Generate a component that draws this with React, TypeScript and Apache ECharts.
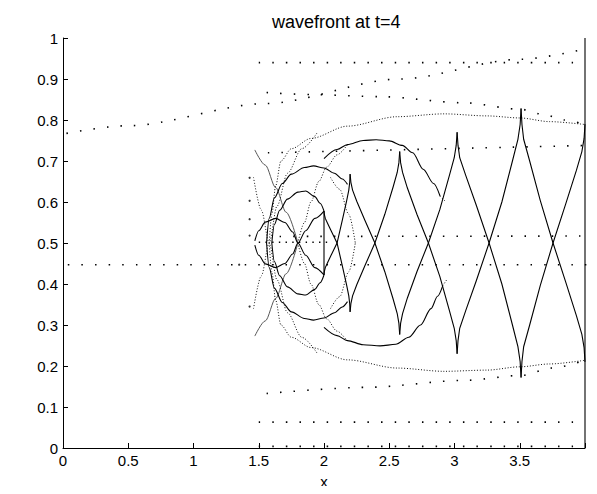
import React, { useEffect, useRef } from "react";
import * as echarts from "echarts";

type Pts = [number, number][];

const FONT = "'Liberation Sans', Arial, Helvetica, sans-serif";
const titleText = "wavefront at t=4";
const xName = "x";
const xTickValues = [0, 0.5, 1, 1.5, 2, 2.5, 3, 3.5, 4];
const yTickValues = [0, 0.1, 0.2, 0.3, 0.4, 0.5, 0.6, 0.7, 0.8, 0.9, 1];

// ---- sparse (marker) rays ----
const rayTopOblique: Pts = [[-0.483, 0.733], [0.5, 0.786], [1.55, 0.84], [2.58, 0.9], [3.5, 0.948], [4.07, 0.978]];
const rayTopBent: Pts = [[1.56, 0.867], [1.9, 0.862], [2.43, 0.857], [3.07, 0.842], [3.51, 0.826], [3.69, 0.813], [3.84, 0.8], [4.0, 0.789]];
const rayBottomBent: Pts = [[1.56, 0.133], [2.33, 0.148], [3.08, 0.165], [3.51, 0.177], [3.75, 0.195], [4.0, 0.214]];
const rayH094: Pts = [[1.5, 0.94], [3.97, 0.94]];
const rayH072: Pts = [[1.57, 0.72], [4.03, 0.738]];
const rayH052: Pts = [[1.66, 0.516], [4.03, 0.517]];
const rayH045: Pts = [[-0.483, 0.447], [4.03, 0.447]];
const rayH006: Pts = [[1.5, 0.063], [3.97, 0.063]];
const rayH000: Pts = [[1.5, 0.004], [3.97, 0.004]];
const rayAxisFine: Pts = [[1.5, 0.502], [2.05, 0.502]];
const startDots: Pts = [[1.43, 0.659], [1.43, 0.603], [1.43, 0.558], [1.43, 0.518], [1.43, 0.345], [1.35, 0.447]];

// ---- dense dotted rays ----
const dottedArcTop: Pts = [[1.58, 0.5], [1.6, 0.57], [1.63, 0.64], [1.67, 0.7], [1.75, 0.73], [1.9, 0.755], [2.18, 0.785], [2.56, 0.808], [2.92, 0.815], [3.25, 0.81], [3.5, 0.805], [3.73, 0.796], [4.0, 0.789]];
const dottedArcBottom: Pts = [[1.58, 0.5], [1.6, 0.43], [1.63, 0.36], [1.67, 0.3], [1.75, 0.27], [1.9, 0.245], [2.18, 0.215], [2.56, 0.195], [2.92, 0.187], [3.25, 0.19], [3.5, 0.198], [3.73, 0.205], [4.0, 0.214]];
const linkNodeTop: Pts = [[1.8, 0.5], [1.85, 0.55], [1.9, 0.6], [1.96, 0.65], [2.02, 0.685], [2.1, 0.715], [2.18, 0.74]];
const linkNodeBottom: Pts = [[1.8, 0.5], [1.85, 0.45], [1.9, 0.4], [1.96, 0.35], [2.02, 0.315], [2.1, 0.285], [2.18, 0.26]];
const chevronTop: Pts = [[2.05, 0.66], [2.12, 0.631], [2.19, 0.57], [2.24, 0.5]];
const chevronBottom: Pts = [[2.05, 0.34], [2.12, 0.369], [2.19, 0.43], [2.24, 0.5]];
const nodeRayA: Pts = [[1.46, 0.66], [1.52, 0.58], [1.58, 0.5], [1.64, 0.41], [1.72, 0.33], [1.83, 0.27], [1.95, 0.23]];
const nodeRayB: Pts = [[1.46, 0.34], [1.52, 0.42], [1.58, 0.5], [1.64, 0.59], [1.72, 0.67], [1.83, 0.73], [1.95, 0.77]];
const fTopEnd: Pts = [[2.89, 0.614], [2.935, 0.6]];
const fBottomEnd: Pts = [[2.91, 0.396], [2.94, 0.41]];

// ---- thin grey lines into node 2 ----
const greyTop: Pts = [[1.47, 0.727], [1.55, 0.69], [1.63, 0.635], [1.71, 0.575], [1.8, 0.5]];
const greyBottom: Pts = [[1.47, 0.273], [1.55, 0.31], [1.63, 0.365], [1.71, 0.425], [1.8, 0.5]];

// ---- solid wavefront pieces (curved loops) ----
const lensTop: Pts = [[1.47, 0.505], [1.5, 0.53], [1.55, 0.551], [1.63, 0.56], [1.7, 0.55], [1.76, 0.527], [1.8, 0.5], [1.86, 0.47], [1.93, 0.44], [2.0, 0.422]];
const lensBottom: Pts = [[1.47, 0.495], [1.5, 0.47], [1.55, 0.449], [1.63, 0.44], [1.7, 0.45], [1.76, 0.473], [1.8, 0.5], [1.86, 0.53], [1.93, 0.56], [2.0, 0.578]];
const arc2Top: Pts = [[1.6, 0.5], [1.62, 0.545], [1.66, 0.58], [1.72, 0.607], [1.8, 0.624], [1.86, 0.627], [1.93, 0.613], [1.97, 0.597], [2.0, 0.578]];
const arc2Bottom: Pts = [[1.6, 0.5], [1.62, 0.455], [1.66, 0.42], [1.72, 0.393], [1.8, 0.376], [1.86, 0.373], [1.93, 0.387], [1.97, 0.403], [2.0, 0.422]];
const arc3Top: Pts = [[1.56, 0.5], [1.58, 0.56], [1.62, 0.61], [1.68, 0.645], [1.75, 0.668], [1.85, 0.684], [1.92, 0.688], [2.0, 0.683], [2.08, 0.67], [2.14, 0.656], [2.18, 0.643]];
const arc3Bottom: Pts = [[1.56, 0.5], [1.58, 0.44], [1.62, 0.39], [1.68, 0.355], [1.75, 0.332], [1.85, 0.316], [1.92, 0.312], [2.0, 0.317], [2.08, 0.33], [2.14, 0.344], [2.18, 0.357]];
const bigTop: Pts = [[2.0, 0.706], [2.1, 0.728], [2.18, 0.74], [2.3, 0.75], [2.4, 0.752], [2.5, 0.749], [2.6, 0.738], [2.68, 0.72], [2.76, 0.68], [2.84, 0.645], [2.89, 0.614]];
const bigBottom: Pts = [[2.0, 0.294], [2.1, 0.274], [2.18, 0.262], [2.3, 0.252], [2.43, 0.249], [2.55, 0.253], [2.65, 0.27], [2.74, 0.3], [2.82, 0.34], [2.87, 0.37], [2.91, 0.396]];
const spikeAt2: Pts = [[2.0, 0.422], [2.0, 0.578]];
const frontAt4: Pts = [[4.0, 0.0], [4.0, 1.0]];

// ---- solid cusp chain (polyline branches) ----
const branchTB_200_220: Pts = [[2.0, 0.578], [2.003, 0.569], [2.01, 0.56], [2.027, 0.548], [2.06, 0.526], [2.1, 0.5], [2.14, 0.445], [2.173, 0.398], [2.19, 0.371], [2.197, 0.352], [2.2, 0.332]];
const branchBT_200_220: Pts = [[2.0, 0.422], [2.003, 0.431], [2.01, 0.44], [2.027, 0.452], [2.06, 0.474], [2.1, 0.5], [2.14, 0.555], [2.173, 0.602], [2.19, 0.629], [2.197, 0.648], [2.2, 0.668]];
const branchTB_220_258: Pts = [[2.2, 0.668], [2.206, 0.648], [2.219, 0.629], [2.251, 0.602], [2.314, 0.555], [2.39, 0.5], [2.466, 0.43], [2.529, 0.364], [2.561, 0.328], [2.574, 0.304], [2.58, 0.277]];
const branchBT_220_258: Pts = [[2.2, 0.332], [2.206, 0.352], [2.219, 0.371], [2.251, 0.398], [2.314, 0.445], [2.39, 0.5], [2.466, 0.57], [2.529, 0.636], [2.561, 0.672], [2.574, 0.696], [2.58, 0.723]];
const branchTB_258_302: Pts = [[2.58, 0.723], [2.587, 0.696], [2.602, 0.672], [2.639, 0.634], [2.712, 0.57], [2.8, 0.5], [2.888, 0.418], [2.961, 0.335], [2.998, 0.292], [3.013, 0.262], [3.02, 0.23]];
const branchBT_258_302: Pts = [[2.58, 0.277], [2.587, 0.304], [2.602, 0.328], [2.639, 0.366], [2.712, 0.43], [2.8, 0.5], [2.888, 0.582], [2.961, 0.665], [2.998, 0.708], [3.013, 0.738], [3.02, 0.77]];
const branchTB_302_351: Pts = [[3.02, 0.77], [3.027, 0.738], [3.04, 0.708], [3.086, 0.665], [3.167, 0.592], [3.265, 0.5], [3.363, 0.4], [3.444, 0.3], [3.486, 0.247], [3.503, 0.211], [3.51, 0.172]];
const branchBT_302_351: Pts = [[3.02, 0.23], [3.027, 0.262], [3.04, 0.292], [3.086, 0.335], [3.167, 0.408], [3.265, 0.5], [3.363, 0.6], [3.444, 0.7], [3.486, 0.753], [3.503, 0.789], [3.51, 0.828]];
const branchTB_351_400: Pts = [[3.51, 0.828], [3.517, 0.789], [3.53, 0.753], [3.576, 0.7], [3.657, 0.604], [3.755, 0.5], [3.853, 0.404], [3.934, 0.323], [3.976, 0.277], [3.993, 0.245], [4.0, 0.21]];
const branchBT_351_400: Pts = [[3.51, 0.172], [3.517, 0.211], [3.53, 0.247], [3.576, 0.3], [3.657, 0.396], [3.755, 0.5], [3.853, 0.596], [3.934, 0.677], [3.976, 0.723], [3.993, 0.755], [4.0, 0.79]];

const loopPieces: Pts[] = [lensTop, lensBottom, arc2Top, arc2Bottom, arc3Top, arc3Bottom, bigTop, bigBottom];
const chainPieces: Pts[] = [
  branchTB_200_220, branchBT_200_220, branchTB_220_258, branchBT_220_258,
  branchTB_258_302, branchBT_258_302, branchTB_302_351, branchBT_302_351,
  branchTB_351_400, branchBT_351_400, spikeAt2, frontAt4,
];
const denseDotted: Pts[] = [dottedArcTop, dottedArcBottom, linkNodeTop, linkNodeBottom, chevronTop, chevronBottom, nodeRayA, nodeRayB, fTopEnd, fBottomEnd];
const greyLines: Pts[] = [greyTop, greyBottom];
const sparseRays: Pts[] = [rayTopOblique, rayTopBent, rayBottomBent, rayH094, rayH072, rayH052, rayH045, rayH006, rayH000];
const fineRays: Pts[] = [rayAxisFine];

function lineSeries(data: Pts, lineStyle: any, smooth: number | boolean, z = 3) {
  return {
    type: "line", data, symbol: "none", smooth, smoothMonotone: "x",
    clip: false, silent: true, z, lineStyle,
  };
}

export default function App() {
  const ref = useRef<HTMLDivElement>(null);
  useEffect(() => {
    if (!ref.current) return;
    const chart = echarts.init(ref.current, undefined, { renderer: "svg" });
    const series: any[] = [];
    sparseRays.forEach((d) => series.push(lineSeries(d, { color: "#000", width: 1.6, type: [1.5, 12.1] }, 0.3, 2)));
    fineRays.forEach((d) => series.push(lineSeries(d, { color: "#000", width: 1.4, type: [1.4, 5.3] }, false, 2)));
    denseDotted.forEach((d) => series.push(lineSeries(d, { color: "#111", width: 1, type: [1, 1.8] }, 0.3, 2)));
    greyLines.forEach((d) => series.push(lineSeries(d, { color: "#444", width: 0.9 }, 0.3, 2)));
    loopPieces.forEach((d) => series.push(lineSeries(d, { color: "#000", width: 1.1 }, 0.3, 3)));
    chainPieces.forEach((d) => series.push(lineSeries(d, { color: "#000", width: 1.1, join: "miter" }, false, 3)));
    series.push({ type: "scatter", data: startDots, symbolSize: 2.2, silent: true, clip: false, itemStyle: { color: "#000" } });

    chart.setOption({
      animation: false,
      title: {
        text: titleText, left: 267, top: 8,
        textStyle: { fontSize: 18, fontWeight: "normal", color: "#000", fontFamily: FONT },
      },
      grid: { left: 63, right: 12, top: 38, bottom: 44 },
      xAxis: {
        type: "value", min: xTickValues[0], max: xTickValues[xTickValues.length - 1], interval: 0.5,
        name: xName, nameLocation: "middle", nameGap: 26,
        nameTextStyle: { color: "#000", fontSize: 15, fontFamily: FONT },
        axisLine: { show: true, onZero: false, lineStyle: { color: "#000", width: 1 } },
        axisTick: { show: true, inside: true, length: 5, lineStyle: { color: "#000" } },
        axisLabel: {
          color: "#000", fontSize: 15, margin: 5, fontFamily: FONT,
          formatter: (v: number) => (v >= 4 ? "" : String(v)),
        },
        splitLine: { show: false },
      },
      yAxis: {
        type: "value", min: yTickValues[0], max: yTickValues[yTickValues.length - 1], interval: 0.1,
        axisLine: { show: true, onZero: false, lineStyle: { color: "#000", width: 1 } },
        axisTick: { show: true, inside: true, length: 5, lineStyle: { color: "#000" } },
        axisLabel: {
          color: "#000", fontSize: 15, margin: 5, fontFamily: FONT,
          formatter: (v: number) => String(Math.round(v * 10) / 10),
        },
        splitLine: { show: false },
      },
      series,
    });
    return () => chart.dispose();
  }, []);
  return <div ref={ref} style={{ width: 597, height: 494, margin: -8 }} />;
}
